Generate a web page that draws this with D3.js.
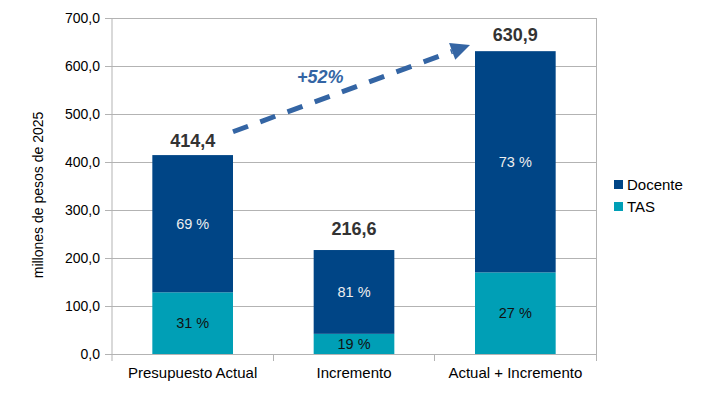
<!DOCTYPE html>
<html>
<head>
<meta charset="utf-8">
<script src="https://cdn.jsdelivr.net/npm/d3@7"></script>
<style>
	body { margin: 0; background: #fff; }
	text { font-family: "Liberation Sans", Arial, sans-serif; }
</style>
</head>
<body>
<div id="chart"></div>
<script>
"use strict";

//
// Data
//
var categories = ["Presupuesto Actual", "Incremento", "Actual + Incremento"];
var series = ["Docente", "TAS"];
var docente = [285.9, 174.6, 460.9];
var tas = [128.5, 42.0, 170.0];
var totals = ["414,4", "216,6", "630,9"];
var yTicks = [0, 100, 200, 300, 400, 500, 600, 700];
var growthLabel = "+52%";

var colors = { Docente: "#004586", TAS: "#009fb6" };

//
// Setup
//
var width = 721, height = 397;
var margin = { top: 18, right: 125, bottom: 43, left: 112 };
var plotW = width - margin.left - margin.right;
var plotH = height - margin.top - margin.bottom;

var svg = d3.select("#chart")
	.append("svg")
	.attr("width", width)
	.attr("height", height);

var g = svg.append("g")
	.attr("transform", "translate(" + margin.left + "," + margin.top + ")");

var x = d3.scaleBand()
	.domain(categories)
	.range([0, plotW])
	.paddingInner(0.5)
	.paddingOuter(0.25);

var y = d3.scaleLinear()
	.domain([0, 700])
	.range([plotH, 0]);

var fmt = function(v) { return d3.format(".1f")(v).replace(".", ","); };

//
// Grid
//
g.append("g")
	.selectAll("line")
	.data(yTicks)
	.enter()
	.append("line")
	.attr("x1", 0)
	.attr("x2", plotW)
	.attr("y1", function(d) { return y(d); })
	.attr("y2", function(d) { return y(d); })
	.attr("stroke", "#b3b3b3")
	.attr("stroke-width", 1)
	.attr("shape-rendering", "crispEdges");

// right frame line
g.append("line")
	.attr("x1", plotW).attr("x2", plotW)
	.attr("y1", 0).attr("y2", plotH + 7)
	.attr("stroke", "#b3b3b3")
	.attr("shape-rendering", "crispEdges");

//
// Y-Axis
//
var yAxis = d3.axisLeft(y)
	.tickValues(yTicks)
	.tickSize(7)
	.tickPadding(5)
	.tickFormat(fmt);

var yg = g.append("g").call(yAxis);
yg.select(".domain").attr("stroke", "#b3b3b3");
yg.selectAll(".tick line").attr("stroke", "#b3b3b3");
yg.selectAll(".tick text")
	.attr("font-size", 14)
	.attr("fill", "#000")
	.attr("font-family", "Liberation Sans, Arial, sans-serif");
yg.select(".domain").attr("d", "M0,0V" + (plotH + 7));

//
// X-Axis
//
var xg = g.append("g")
	.attr("transform", "translate(0," + plotH + ")");

xg.append("line")
	.attr("x1", 0).attr("x2", plotW)
	.attr("y1", 0).attr("y2", 0)
	.attr("stroke", "#b3b3b3")
	.attr("shape-rendering", "crispEdges");

xg.selectAll(".sep")
	.data(categories.slice(1))
	.enter()
	.append("line")
	.attr("class", "sep")
	.attr("x1", function(d) { return x(d) - x.step() * x.paddingInner() / 2; })
	.attr("x2", function(d) { return x(d) - x.step() * x.paddingInner() / 2; })
	.attr("y1", 0).attr("y2", 7)
	.attr("stroke", "#b3b3b3")
	.attr("shape-rendering", "crispEdges");

xg.selectAll(".xlabel")
	.data(categories)
	.enter()
	.append("text")
	.attr("class", "xlabel")
	.attr("x", function(d) { return x(d) + x.bandwidth() / 2; })
	.attr("y", 24)
	.attr("text-anchor", "middle")
	.attr("font-size", 15)
	.attr("fill", "#000")
	.text(function(d) { return d; });

//
// Bars
//
var rows = categories.map(function(c, i) {
	return { cat: c, Docente: docente[i], TAS: tas[i], total: totals[i] };
});

var stack = d3.stack().keys(["TAS", "Docente"]);
var layers = stack(rows);

var layer = g.selectAll(".layer")
	.data(layers)
	.enter()
	.append("g")
	.attr("class", "layer")
	.attr("fill", function(d) { return colors[d.key]; });

layer.selectAll("rect")
	.data(function(d) { return d; })
	.enter()
	.append("rect")
	.attr("x", function(d) { return x(d.data.cat); })
	.attr("width", x.bandwidth())
	.attr("y", function(d) { return y(d[1]); })
	.attr("height", function(d) { return y(d[0]) - y(d[1]); });

layer.selectAll(".pct")
	.data(function(d) { return d.map(function(p) { p.key = d.key; return p; }); })
	.enter()
	.append("text")
	.attr("class", "pct")
	.attr("x", function(d) { return x(d.data.cat) + x.bandwidth() / 2; })
	.attr("y", function(d) { return (y(d[0]) + y(d[1])) / 2 + 5; })
	.attr("text-anchor", "middle")
	.attr("font-size", 14.5)
	.attr("fill", function(d) { return d.key === "Docente" ? "#eeeeee" : "#111"; })
	.text(function(d) {
		var t = d.data.Docente + d.data.TAS;
		return Math.round((d[1] - d[0]) / t * 100) + " %";
	});

// totals
var lift = [8, 15, 10];
g.selectAll(".total")
	.data(rows)
	.enter()
	.append("text")
	.attr("class", "total")
	.attr("x", function(d) { return x(d.cat) + x.bandwidth() / 2; })
	.attr("y", function(d, i) { return y(d.Docente + d.TAS) - lift[i]; })
	.attr("text-anchor", "middle")
	.attr("font-size", 18)
	.attr("font-weight", "bold")
	.attr("fill", "#333333")
	.text(function(d) { return d.total; });

//
// Growth arrow
//
var x0 = x(categories[0]) + x.bandwidth();
var y0 = y(463);
var x1 = x(categories[2]) - 5;
var y1 = y(644);
var ang = Math.atan2(y1 - y0, x1 - x0);
var headLen = 19, headHalf = 9;
var bx = x1 - headLen * Math.cos(ang), by = y1 - headLen * Math.sin(ang);

g.append("line")
	.attr("x1", x0).attr("y1", y0)
	.attr("x2", bx).attr("y2", by)
	.attr("stroke", "#3465a4")
	.attr("stroke-width", 5)
	.attr("stroke-dasharray", "16,13");

g.append("path")
	.attr("d", "M" + x1 + "," + y1 +
		"L" + (bx - headHalf * Math.sin(ang)) + "," + (by + headHalf * Math.cos(ang)) +
		"L" + (bx + headHalf * Math.sin(ang)) + "," + (by - headHalf * Math.cos(ang)) + "Z")
	.attr("fill", "#3465a4");

g.append("text")
	.attr("x", (x0 + x(categories[1])) / 2 + 47)
	.attr("y", y(564))
	.attr("text-anchor", "middle")
	.attr("font-size", 18)
	.attr("font-weight", "bold")
	.attr("font-style", "italic")
	.attr("fill", "#3465a4")
	.text(growthLabel);

//
// Y label
//
svg.append("text")
	.attr("transform", "translate(43,195) rotate(-90)")
	.attr("text-anchor", "middle")
	.attr("font-size", 14)
	.attr("fill", "#000")
	.text("millones de pesos de 2025");

//
// Legend
//
var legend = svg.append("g")
	.attr("transform", "translate(614,180)");

var li = legend.selectAll(".li")
	.data(series)
	.enter()
	.append("g")
	.attr("class", "li")
	.attr("transform", function(d, i) { return "translate(0," + (i * 22) + ")"; });

li.append("rect")
	.attr("width", 9)
	.attr("height", 9)
	.attr("fill", function(d) { return colors[d]; });

li.append("text")
	.attr("x", 13)
	.attr("y", 10)
	.attr("font-size", 15)
	.attr("fill", "#000")
	.text(function(d) { return d; });
</script>
</body>
</html>
